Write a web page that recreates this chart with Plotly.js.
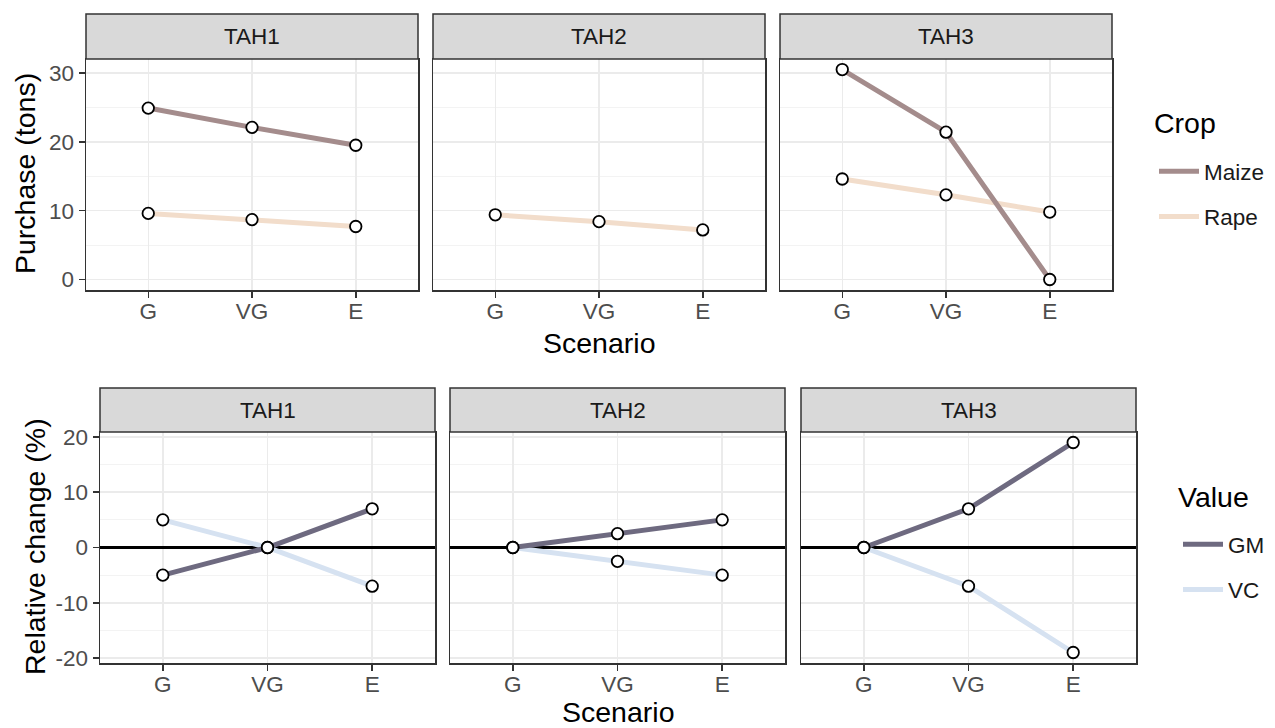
<!DOCTYPE html>
<html>
<head>
<meta charset="utf-8">
<script src="https://cdn.plot.ly/plotly-3.0.1.min.js"></script>
<style>html,body{margin:0;padding:0;background:#fff;}#chart{width:1275px;height:728px;}</style>
</head>
<body>
<div id="chart"></div>
<script>
// ---- data ----
const scenarios = ['G', 'VG', 'E'];
const households = ['TAH1', 'TAH2', 'TAH3'];

// Purchase (tons)
const maizeTAH1 = [24.9, 22.1, 19.5];
const maizeTAH3 = [30.5, 21.4, 0.0];
const rapeTAH1 = [9.6, 8.7, 7.7];
const rapeTAH2 = [9.4, 8.4, 7.2];
const rapeTAH3 = [14.6, 12.3, 9.8];

// Relative change (%)
const gmTAH1 = [-5, 0, 7];
const gmTAH2 = [0, 2.5, 5];
const gmTAH3 = [0, 7, 19];
const vcTAH1 = [5, 0, -7];
const vcTAH2 = [0, -2.5, -5];
const vcTAH3 = [0, -7, -19];

const topYTicks = [0, 10, 20, 30];
const botYTicks = [-20, -10, 0, 10, 20];

// ---- styles ----
const W = 1275, H = 728;
const FONT = 'Liberation Sans, Arial, sans-serif';
const TICK = 22.5, TITLE = 28.5;
const col = {Maize: '#a48c8c', Rape: '#f2ddcb', GM: '#6e6a80', VC: '#d6e2f1'};
const px = v => v / W;
const py = v => 1 - v / H;

const topX = [[86, 418], [433, 765], [780, 1112]];
const botX = [[100, 435], [450, 785], [801, 1136]];
const topStrip = [14, 59], topPlot = [59, 290];
const botStrip = [388, 432], botPlot = [432, 663];

const traces = [];
function lineTrace(y, name, ax, legend, show, rank) {
  return {x: scenarios, y: y, mode: 'lines', name: name, xaxis: 'x' + ax, yaxis: 'y' + ax,
    line: {color: col[name], width: 5}, legend: legend, legendgroup: name, showlegend: show,
    legendrank: rank, hoverinfo: 'skip'};
}
function ptTrace(y, ax) {
  return {x: scenarios, y: y, mode: 'markers', xaxis: 'x' + ax, yaxis: 'y' + ax, showlegend: false,
    marker: {size: 11.5, color: '#ffffff', line: {color: '#000000', width: 1.8}}, hoverinfo: 'skip'};
}
// top row
traces.push(lineTrace(rapeTAH1, 'Rape', '', 'legend', true, 2));
traces.push(lineTrace(maizeTAH1, 'Maize', '', 'legend', true, 1));
traces.push(lineTrace(rapeTAH2, 'Rape', '2', 'legend', false, 2));
traces.push(lineTrace(rapeTAH3, 'Rape', '3', 'legend', false, 2));
traces.push(lineTrace(maizeTAH3, 'Maize', '3', 'legend', false, 1));
// bottom row
traces.push(lineTrace(vcTAH1, 'VC', '4', 'legend2', true, 2));
traces.push(lineTrace(gmTAH1, 'GM', '4', 'legend2', true, 1));
traces.push(lineTrace(vcTAH2, 'VC', '5', 'legend2', false, 2));
traces.push(lineTrace(gmTAH2, 'GM', '5', 'legend2', false, 1));
traces.push(lineTrace(vcTAH3, 'VC', '6', 'legend2', false, 2));
traces.push(lineTrace(gmTAH3, 'GM', '6', 'legend2', false, 1));
// points
traces.push(ptTrace(maizeTAH1, ''), ptTrace(rapeTAH1, ''), ptTrace(rapeTAH2, '2'),
  ptTrace(maizeTAH3, '3'), ptTrace(rapeTAH3, '3'));
traces.push(ptTrace(gmTAH1, '4'), ptTrace(vcTAH1, '4'), ptTrace(gmTAH2, '5'), ptTrace(vcTAH2, '5'),
  ptTrace(gmTAH3, '6'), ptTrace(vcTAH3, '6'));

function xa(dom, yname) {
  return {domain: [px(dom[0]), px(dom[1])], anchor: yname, type: 'category',
    categoryorder: 'array', categoryarray: scenarios, range: [-0.6, 2.6],
    showgrid: true, gridcolor: '#ebebeb', gridwidth: 1.5, zeroline: false,
    showline: true, mirror: true, linecolor: '#333333', linewidth: 1.5,
    ticks: 'outside', ticklen: 6, tickwidth: 1.5, tickcolor: '#333333', ticklabelstandoff: -6,
    tickfont: {family: FONT, size: TICK, color: '#4d4d4d'}, fixedrange: true};
}
function ya(dom, xname, range, tickv, showLabels, zero) {
  return {domain: [py(dom[1]), py(dom[0])], anchor: xname, range: range,
    tickmode: 'array', tickvals: tickv, ticktext: tickv.map(String),
    showticklabels: showLabels, ticks: showLabels ? 'outside' : '', ticklen: 6, tickwidth: 1.5, tickcolor: '#333333',
    tickfont: {family: FONT, size: TICK, color: '#4d4d4d'},
    showgrid: true, gridcolor: '#ebebeb', gridwidth: 1.5,
    minor: {tickmode: 'linear', tick0: 0, dtick: 5, showgrid: true, gridcolor: '#f3f3f3', gridwidth: 1, ticks: ''},
    zeroline: zero, zerolinecolor: '#000000', zerolinewidth: 2.2,
    showline: true, mirror: true, linecolor: '#333333', linewidth: 1.5, fixedrange: true};
}
const topRange = [-1.525, 32.03];
const botRange = [-20.9, 20.9];

const legendCommon = {xanchor: 'left', yanchor: 'top', bgcolor: 'rgba(0,0,0,0)',
  font: {family: FONT, size: TICK, color: '#1a1a1a'}, tracegroupgap: 13, traceorder: 'grouped',
  itemwidth: 40};

const layout = {
  width: W, height: H, margin: {l: 0, r: 0, t: 0, b: 0},
  paper_bgcolor: '#ffffff', plot_bgcolor: '#ffffff',
  font: {family: FONT, color: '#000000'},
  xaxis: xa(topX[0], 'y'), yaxis: ya(topPlot, 'x', topRange, topYTicks, true, false),
  xaxis2: xa(topX[1], 'y2'), yaxis2: ya(topPlot, 'x2', topRange, topYTicks, false, false),
  xaxis3: xa(topX[2], 'y3'), yaxis3: ya(topPlot, 'x3', topRange, topYTicks, false, false),
  xaxis4: xa(botX[0], 'y4'), yaxis4: ya(botPlot, 'x4', botRange, botYTicks, true, true),
  xaxis5: xa(botX[1], 'y5'), yaxis5: ya(botPlot, 'x5', botRange, botYTicks, false, true),
  xaxis6: xa(botX[2], 'y6'), yaxis6: ya(botPlot, 'x6', botRange, botYTicks, false, true),
  legend: Object.assign({x: px(1154), y: py(150)}, legendCommon),
  legend2: Object.assign({x: px(1178), y: py(523)}, legendCommon),
  shapes: [], annotations: []
};

function strip(xs, ys, label) {
  layout.shapes.push({type: 'rect', xref: 'paper', yref: 'paper', x0: px(xs[0]), x1: px(xs[1]),
    y0: py(ys[1]), y1: py(ys[0]), fillcolor: '#d9d9d9', line: {color: '#333333', width: 1.5}, layer: 'above'});
  layout.annotations.push({xref: 'paper', yref: 'paper', x: px((xs[0] + xs[1]) / 2), y: py((ys[0] + ys[1]) / 2),
    text: label, showarrow: false, xanchor: 'center', yanchor: 'middle',
    font: {family: FONT, size: TICK, color: '#1a1a1a'}});
}
households.forEach((h, i) => { strip(topX[i], topStrip, h); strip(botX[i], botStrip, h); });

function title(text, x, y, angle, anchor) {
  layout.annotations.push({xref: 'paper', yref: 'paper', x: px(x), y: py(y), text: text, showarrow: false,
    xanchor: anchor || 'center', yanchor: 'middle', textangle: angle || 0, font: {family: FONT, size: TITLE, color: '#000'}});
}
title('Scenario', 599, 343);
title('Scenario', 618, 712);
title('Purchase (tons)', 25, 174, -90);
title('Relative change (%)', 35, 547, -90);
// legend titles
title('Crop', 1152, 123, 0, 'left');
title('Value', 1176, 497, 0, 'left');

Plotly.newPlot('chart', traces, layout, {displayModeBar: false, staticPlot: true});
</script>
</body>
</html>
